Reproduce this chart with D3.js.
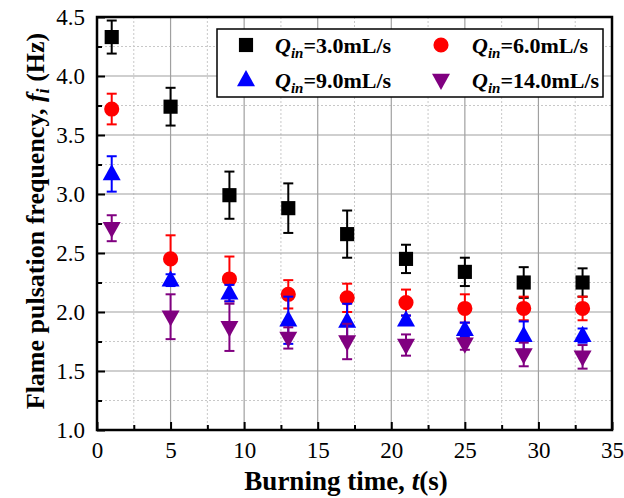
<!DOCTYPE html>
<html>
<head>
<meta charset="utf-8">
<script src="https://cdn.jsdelivr.net/npm/d3@7"></script>
<style>
  body { margin: 0; background: #fff; }
  svg { display: block; }
  text { font-family: "Liberation Serif", "Times New Roman", serif; }
</style>
</head>
<body>
<svg id="chart"></svg>
<script>
// burning time (s)
var times = [1, 5, 9, 13, 17, 21, 25, 29, 33];

// mean frequency and error (Hz) for each flow rate
var q3mean = [4.33, 3.74, 2.99, 2.88, 2.66, 2.45, 2.34, 2.25, 2.25];
var q3err  = [0.14, 0.16, 0.20, 0.21, 0.20, 0.12, 0.12, 0.13, 0.12];
var q6mean = [3.72, 2.45, 2.28, 2.15, 2.12, 2.08, 2.03, 2.03, 2.03];
var q6err  = [0.13, 0.20, 0.19, 0.12, 0.12, 0.11, 0.12, 0.10, 0.10];
var q9mean = [3.17, 2.27, 2.16, 1.93, 1.92, 1.93, 1.85, 1.80, 1.80];
var q9err  = [0.15, 0.05, 0.07, 0.20, 0.15, 0.04, 0.06, 0.12, 0.06];
var q14mean = [2.71, 1.96, 1.87, 1.78, 1.75, 1.72, 1.73, 1.64, 1.62];
var q14err  = [0.11, 0.19, 0.20, 0.09, 0.15, 0.09, 0.05, 0.10, 0.10];

var seriesNames = ["3.0", "6.0", "9.0", "14.0"];
var colors = ["#000000", "#ff0000", "#0000ff", "#800080"];
var shapes = ["square", "circle", "up", "down"];
var xTicks = [0, 5, 10, 15, 20, 25, 30, 35];
var yTicks = [1.0, 1.5, 2.0, 2.5, 3.0, 3.5, 4.0, 4.5];

var width = 624, height = 498;
var margin = {top: 17, right: 12, bottom: 68, left: 97};
var innerW = width - margin.left - margin.right;
var innerH = height - margin.top - margin.bottom;

var svg = d3.select("#chart").attr("width", width).attr("height", height);
var g = svg.append("g").attr("transform", "translate(" + margin.left + "," + margin.top + ")");

var x = d3.scaleLinear().domain([0, 35]).range([0, innerW]);
var y = d3.scaleLinear().domain([1.0, 4.5]).range([innerH, 0]);

// grid: minor dotted, major solid
var xMinor = d3.range(2.5, 35, 5);
var yMinor = d3.range(1.25, 4.5, 0.5);
g.selectAll(".gxm").data(xMinor).enter().append("line")
  .attr("x1", d => x(d)).attr("x2", d => x(d)).attr("y1", 0).attr("y2", innerH)
  .attr("stroke", "#c8c8c8").attr("stroke-width", 1).attr("stroke-dasharray", "2,2");
g.selectAll(".gym").data(yMinor).enter().append("line")
  .attr("x1", 0).attr("x2", innerW).attr("y1", d => y(d)).attr("y2", d => y(d))
  .attr("stroke", "#c8c8c8").attr("stroke-width", 1).attr("stroke-dasharray", "2,2");
g.selectAll(".gx").data(xTicks.slice(1, -1)).enter().append("line")
  .attr("x1", d => x(d)).attr("x2", d => x(d)).attr("y1", 0).attr("y2", innerH)
  .attr("stroke", "#a0a0a0").attr("stroke-width", 1.2);
g.selectAll(".gy").data(yTicks.slice(1, -1)).enter().append("line")
  .attr("x1", 0).attr("x2", innerW).attr("y1", d => y(d)).attr("y2", d => y(d))
  .attr("stroke", "#a0a0a0").attr("stroke-width", 1.2);

// axes with inward ticks
g.append("g").attr("transform", "translate(0," + innerH + ")")
  .call(d3.axisBottom(x).tickValues(xTicks).tickSize(-8).tickPadding(12).tickFormat(d3.format("d")));
g.append("g")
  .call(d3.axisLeft(y).tickValues(yTicks).tickSize(-8).tickPadding(12).tickFormat(d3.format(".1f")));
g.append("g").attr("transform", "translate(0," + innerH + ")")
  .call(d3.axisBottom(x).tickValues(xMinor).tickSize(-5).tickFormat(""));
g.append("g")
  .call(d3.axisLeft(y).tickValues(yMinor).tickSize(-5).tickFormat(""));
g.selectAll(".domain").remove();
g.selectAll(".tick line").attr("stroke", "#000").attr("stroke-width", 2);
g.selectAll(".tick text").attr("font-size", 23).attr("fill", "#000")
  .style("font-family", "'Liberation Serif', serif");

// frame
g.append("rect").attr("x", 0).attr("y", 0).attr("width", innerW).attr("height", innerH)
  .attr("fill", "none").attr("stroke", "#000").attr("stroke-width", 2.5);

// data
var allMean = [q3mean, q6mean, q9mean, q14mean];
var allErr = [q3err, q6err, q9err, q14err];

function symbolPath(shape) {
  if (shape === "square") return d3.symbol(d3.symbolSquare, 200)();
  if (shape === "circle") return d3.symbol(d3.symbolCircle, 180)();
  var s = 9;
  if (shape === "up") return "M0," + (-s * 1.1) + "L" + s + "," + (s * 0.7) + "L" + (-s) + "," + (s * 0.7) + "Z";
  return "M0," + (s * 1.1) + "L" + s + "," + (-s * 0.7) + "L" + (-s) + "," + (-s * 0.7) + "Z";
}

allMean.forEach(function(means, si) {
  var pts = times.map((t, i) => ({t: t, v: means[i], e: allErr[si][i]}));
  var sg = g.append("g");
  var eb = sg.selectAll(".eb").data(pts).enter().append("g").attr("stroke", colors[si]).attr("stroke-width", 2);
  eb.append("line").attr("x1", d => x(d.t)).attr("x2", d => x(d.t))
    .attr("y1", d => y(d.v + d.e)).attr("y2", d => y(d.v - d.e));
  eb.append("line").attr("x1", d => x(d.t) - 5).attr("x2", d => x(d.t) + 5)
    .attr("y1", d => y(d.v + d.e)).attr("y2", d => y(d.v + d.e));
  eb.append("line").attr("x1", d => x(d.t) - 5).attr("x2", d => x(d.t) + 5)
    .attr("y1", d => y(d.v - d.e)).attr("y2", d => y(d.v - d.e));
  sg.selectAll(".pt").data(pts).enter().append("path")
    .attr("d", symbolPath(shapes[si]))
    .attr("transform", d => "translate(" + x(d.t) + "," + y(d.v) + ")")
    .attr("fill", colors[si]);
});

// legend
var lg = svg.append("g").attr("transform", "translate(217,29)");
lg.append("rect").attr("width", 386).attr("height", 68)
  .attr("fill", "#fff").attr("stroke", "#000").attr("stroke-width", 1.5);
var legPos = [[29, 16, 58], [224, 16, 255], [29, 51, 58], [224, 51, 255]];
seriesNames.forEach(function(name, i) {
  var p = legPos[i];
  lg.append("path").attr("d", symbolPath(shapes[i]))
    .attr("transform", "translate(" + p[0] + "," + p[1] + ")")
    .attr("fill", colors[i]);
  var t = lg.append("text").attr("x", p[2]).attr("y", p[1] + 8)
    .attr("font-size", 22).attr("font-weight", "bold").attr("fill", "#000");
  t.append("tspan").attr("font-style", "italic").text("Q");
  t.append("tspan").attr("font-style", "italic").attr("font-size", 15).attr("dy", 5).text("in");
  t.append("tspan").attr("dy", -5).text("=" + name + "mL/s");
});

// axis titles
var xt = svg.append("text").attr("x", 346).attr("y", 490)
  .attr("text-anchor", "middle").attr("font-size", 27).attr("font-weight", "bold");
xt.append("tspan").text("Burning time, ");
xt.append("tspan").attr("font-style", "italic").text("t");
xt.append("tspan").text("(s)");

var yt = svg.append("text").attr("transform", "translate(44,221) rotate(-90)")
  .attr("text-anchor", "middle").attr("font-size", 26).attr("font-weight", "bold");
yt.append("tspan").text("Flame pulsation frequency, ");
yt.append("tspan").attr("font-style", "italic").text("f");
yt.append("tspan").attr("font-style", "italic").attr("font-size", 18).attr("dy", 5).text("i");
yt.append("tspan").attr("dy", -5).text(" (Hz)");
</script>
</body>
</html>
